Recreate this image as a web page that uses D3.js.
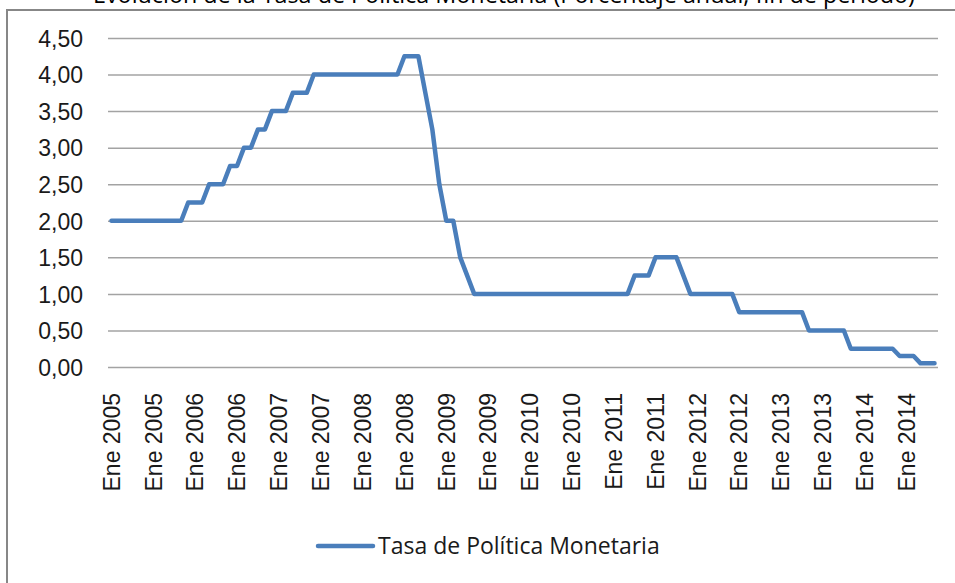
<!DOCTYPE html>
<html>
<head>
<meta charset="utf-8">
<script src="https://cdn.jsdelivr.net/npm/d3@7"></script>
<style>
  html, body { margin: 0; padding: 0; background: #fff; }
  svg { display: block; font-family: "Open Sans", sans-serif; }
  .grid line { stroke: #a3a3a3; stroke-width: 1.5; }
  .y.axis text, .x.axis text { fill: #1a1a1a; font-size: 23px; }
  .line { fill: none; stroke: #4a7ebb; stroke-width: 4.5; stroke-linejoin: round; stroke-linecap: round; }
</style>
</head>
<body>
<svg id="chart" width="955" height="583"></svg>
<script>
"use strict";

// months in the series (Ene 2005 .. Nov 2014)
const monthNames = ["Ene","Feb","Mar","Abr","May","Jun","Jul","Ago","Sep","Oct","Nov","Dic"];
const years      = [2005, 2006, 2007, 2008, 2009, 2010, 2011, 2012, 2013, 2014];

// Tasa de Política Monetaria, one row per year
const tpm2005 = [2.00, 2.00, 2.00, 2.00, 2.00, 2.00, 2.00, 2.00, 2.00, 2.00, 2.00, 2.25];
const tpm2006 = [2.25, 2.25, 2.50, 2.50, 2.50, 2.75, 2.75, 3.00, 3.00, 3.25, 3.25, 3.50];
const tpm2007 = [3.50, 3.50, 3.75, 3.75, 3.75, 4.00, 4.00, 4.00, 4.00, 4.00, 4.00, 4.00];
const tpm2008 = [4.00, 4.00, 4.00, 4.00, 4.00, 4.00, 4.25, 4.25, 4.25, 3.75, 3.25, 2.50];
const tpm2009 = [2.00, 2.00, 1.50, 1.25, 1.00, 1.00, 1.00, 1.00, 1.00, 1.00, 1.00, 1.00];
const tpm2010 = [1.00, 1.00, 1.00, 1.00, 1.00, 1.00, 1.00, 1.00, 1.00, 1.00, 1.00, 1.00];
const tpm2011 = [1.00, 1.00, 1.00, 1.25, 1.25, 1.25, 1.50, 1.50, 1.50, 1.50, 1.25, 1.00];
const tpm2012 = [1.00, 1.00, 1.00, 1.00, 1.00, 1.00, 0.75, 0.75, 0.75, 0.75, 0.75, 0.75];
const tpm2013 = [0.75, 0.75, 0.75, 0.75, 0.50, 0.50, 0.50, 0.50, 0.50, 0.50, 0.25, 0.25];
const tpm2014 = [0.25, 0.25, 0.25, 0.25, 0.25, 0.15, 0.15, 0.15, 0.05, 0.05, 0.05];

// tick labels as printed under the axis (one every 6 months)
const xTickLabels = ["Ene 2005","Ene 2005","Ene 2006","Ene 2006","Ene 2007","Ene 2007",
                     "Ene 2008","Ene 2008","Ene 2009","Ene 2009","Ene 2010","Ene 2010",
                     "Ene 2011","Ene 2011","Ene 2012","Ene 2012","Ene 2013","Ene 2013",
                     "Ene 2014","Ene 2014"];
const yTicks = [0, 0.5, 1, 1.5, 2, 2.5, 3, 3.5, 4, 4.5];

const seriesName = "Tasa de Política Monetaria";
const title = "Evolución de la Tasa de Política Monetaria (Porcentaje anual, fin de período)";

// flatten into one list of {cat, v}
const rows = [tpm2005, tpm2006, tpm2007, tpm2008, tpm2009, tpm2010, tpm2011, tpm2012, tpm2013, tpm2014];
const data = [];
rows.forEach( (row, yi) => {
  row.forEach( (v, mi) => data.push({ cat: monthNames[mi] + " " + years[yi], v: v }) );
});

// plot area
const margin = { top: 38, left: 108 },
      width  = 830,
      height = 329;

// scales
const x = d3.scaleBand()
            .domain( data.map( (d) => d.cat ) )
            .range([0, width]);

const y = d3.scaleLinear()
            .domain([0, 4.5])
            .range([height, 0]);

const fmt = d3.formatLocale({ decimal: ",", thousands: ".", grouping: [3], currency: ["", ""] }).format(".2f");

const svg = d3.select("#chart");

// chart frame (runs past the right/bottom edge)
svg.append("rect")
    .attr("x", 7)
    .attr("y", 10)
    .attr("width", 1000)
    .attr("height", 700)
    .attr("fill", "none")
    .attr("stroke", "#878787")
    .attr("stroke-width", 2);

// title, mostly cut off above the frame
svg.append("text")
    .attr("x", 93)
    .attr("y", 3)
    .attr("textLength", 822)
    .attr("lengthAdjust", "spacingAndGlyphs")
    .style("font-size", "24px")
    .style("fill", "#000")
    .text(title);

const g = svg.append("g")
    .attr("transform", "translate(" + margin.left + "," + margin.top + ")");

// y-axis with gridlines
g.append("g")
    .attr("class", "y axis grid")
    .call( d3.axisLeft(y)
             .tickValues(yTicks)
             .tickSize(-width)
             .tickPadding(25)
             .tickFormat(fmt) )
    .call( (a) => a.select(".domain").remove() )
    .selectAll("text")
      .attr("dy", "0.36em");

// x-axis, labels every 6th month
const xTickCats = data.filter( (d, i) => i % 6 === 0 ).map( (d) => d.cat );
g.append("g")
    .attr("class", "x axis")
    .attr("transform", "translate(0," + height + ")")
    .call( d3.axisBottom(x)
             .tickValues(xTickCats)
             .tickSize(0)
             .tickFormat( (d, i) => xTickLabels[i] ) )
    .call( (a) => a.select(".domain").remove() )
    .selectAll("text")
      .attr("transform", "rotate(-90)")
      .attr("x", -26)
      .attr("y", 0)
      .attr("dy", "0.36em")
      .style("text-anchor", "end");

// the line
const line = d3.line()
    .x( (d) => x(d.cat) + x.bandwidth() / 2 )
    .y( (d) => y(d.v) );

g.append("path")
    .datum(data)
    .attr("class", "line")
    .attr("d", line);

// legend
const legend = svg.append("g")
    .attr("transform", "translate(318,546)");

legend.append("line")
    .attr("x1", 0)
    .attr("x2", 55)
    .attr("stroke", "#4a7ebb")
    .attr("stroke-width", 4.5)
    .attr("stroke-linecap", "round");

legend.append("text")
    .attr("x", 60)
    .attr("dy", "0.36em")
    .style("font-size", "23px")
    .style("fill", "#1a1a1a")
    .text(seriesName);
</script>
</body>
</html>
